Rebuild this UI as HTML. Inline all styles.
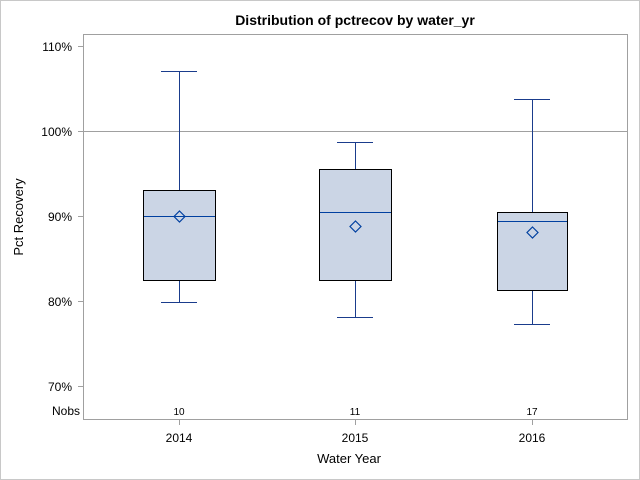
<!DOCTYPE html><html><head><style>body{margin:0}svg{display:block}text{font-family:"Liberation Sans",sans-serif}</style></head><body>
<svg width="640" height="480" xmlns="http://www.w3.org/2000/svg">
<rect x="0.5" y="0.5" width="639" height="479" fill="#fff" stroke="#c8c8c8"/>
<text x="355" y="25" font-size="14" font-weight="bold" text-anchor="middle">Distribution of pctrecov by water_yr</text>
<rect x="83.5" y="34.5" width="544" height="385" fill="#fff" stroke="#a0a0a0"/>
<line x1="83" y1="131.5" x2="627" y2="131.5" stroke="#a0a0a0"/>
<g stroke="#a0a0a0"><line x1="78" y1="46.5" x2="83" y2="46.5"/><line x1="78" y1="131.5" x2="83" y2="131.5"/><line x1="78" y1="216.5" x2="83" y2="216.5"/><line x1="78" y1="301.5" x2="83" y2="301.5"/><line x1="78" y1="386.5" x2="83" y2="386.5"/>
<line x1="179.5" y1="420" x2="179.5" y2="425"/><line x1="355.5" y1="420" x2="355.5" y2="425"/><line x1="532.5" y1="420" x2="532.5" y2="425"/></g>
<g font-size="12" text-anchor="end"><text x="72" y="51">110%</text><text x="72" y="136">100%</text><text x="72" y="221">90%</text><text x="72" y="306">80%</text><text x="72" y="391">70%</text><text x="80" y="415">Nobs</text></g>
<g font-size="10" text-anchor="middle"><text x="179" y="415">10</text><text x="355" y="415">11</text><text x="532" y="415">17</text></g>
<g font-size="12" text-anchor="middle"><text x="179" y="442">2014</text><text x="355" y="442">2015</text><text x="532" y="442">2016</text></g>
<text x="349" y="463" font-size="13" text-anchor="middle">Water Year</text>
<text transform="translate(23,217) rotate(-90)" font-size="13" text-anchor="middle">Pct Recovery</text>
<g stroke="#1a3c8c" fill="none">
<line x1="179.5" y1="71.5" x2="179.5" y2="302.5"/><line x1="161" y1="71.5" x2="197" y2="71.5"/><line x1="161" y1="302.5" x2="197" y2="302.5"/>
<line x1="355.5" y1="142.5" x2="355.5" y2="317.5"/><line x1="337" y1="142.5" x2="373" y2="142.5"/><line x1="337" y1="317.5" x2="373" y2="317.5"/>
<line x1="532.5" y1="99.5" x2="532.5" y2="324.5"/><line x1="514" y1="99.5" x2="550" y2="99.5"/><line x1="514" y1="324.5" x2="550" y2="324.5"/>
</g>
<g fill="#cbd5e5" stroke="#000">
<rect x="143.5" y="190.5" width="72" height="90"/>
<rect x="319.5" y="169.5" width="72" height="111"/>
<rect x="497.5" y="212.5" width="70" height="78"/>
</g>
<g stroke="#0040a0">
<line x1="144" y1="216.5" x2="215" y2="216.5"/><line x1="320" y1="212.5" x2="391" y2="212.5"/><line x1="498" y1="221.5" x2="567" y2="221.5"/>
</g>
<g fill="none" stroke="#0040a0" stroke-width="1.2">
<path d="M179.5 211 L185 216.5 L179.5 222 L174 216.5Z"/>
<path d="M355.5 221 L361 226.5 L355.5 232 L350 226.5Z"/>
<path d="M532.5 227 L538 232.5 L532.5 238 L527 232.5Z"/>
</g>
</svg></body></html>
